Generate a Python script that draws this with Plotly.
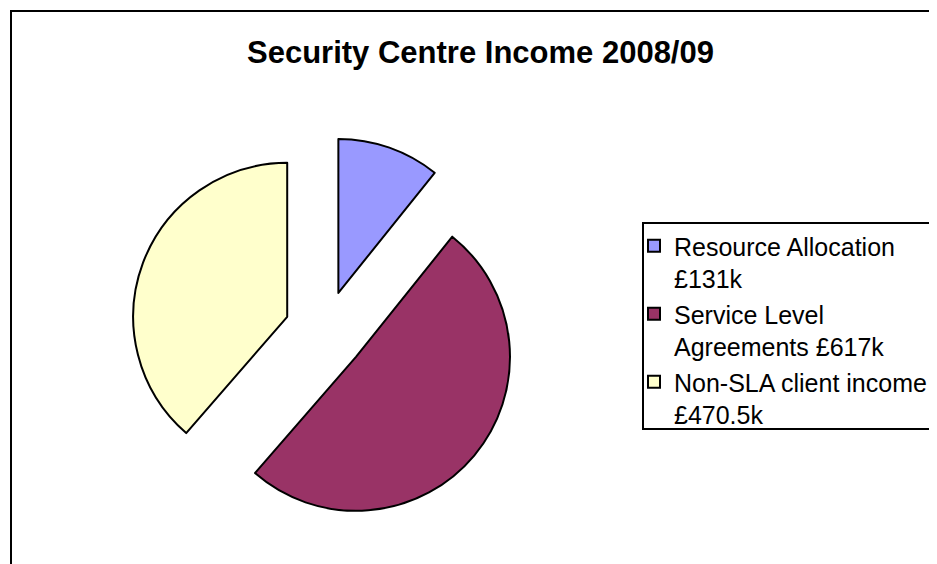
import plotly.graph_objects as go

# Data
categories = ["Resource Allocation", "Service Level Agreements", "Non-SLA client income"]
legend_labels = [
    "Resource Allocation<br>£131k",
    "Service Level<br>Agreements £617k",
    "Non-SLA client income<br>£470.5k",
]
values = [131, 617, 470.5]
colors = ["#9999FF", "#993366", "#FFFFCC"]
title_text = "Security Centre Income 2008/09"

W, H = 937, 564
FONT = "Liberation Sans, Arial, sans-serif"

fig = go.Figure(
    go.Pie(
        labels=legend_labels,
        values=values,
        sort=False,
        direction="clockwise",
        rotation=0,
        pull=[0.262, 0.262, 0.262],
        textinfo="none",
        hovertext=categories,
        hoverinfo="text+value",
        marker=dict(colors=colors, line=dict(color="black", width=2)),
        domain=dict(x=[122.65 / W, 511.35 / W], y=[0.0827, 0.7719]),
    )
)

fig.update_layout(
    width=W,
    height=H,
    margin=dict(l=0, r=0, t=0, b=0),
    paper_bgcolor="white",
    plot_bgcolor="white",
    title=dict(
        text=title_text,
        x=472.5 / W,
        xanchor="center",
        xref="paper",
        y=1 - 44 / H,
        yanchor="middle",
        yref="paper",
        font=dict(family=FONT, size=31, color="black", weight="bold"),
    ),
    legend=dict(
        x=626 / W,
        xanchor="left",
        y=1 - 215 / H,
        yanchor="top",
        valign="top",
        bgcolor="rgba(0,0,0,0)",
        borderwidth=0,
        font=dict(family=FONT, size=25, color="black"),
        traceorder="normal",
    ),
    shapes=[
        # outer chart frame
        dict(
            type="rect", xref="paper", yref="paper",
            x0=3 / W, x1=1.05, y0=-0.05, y1=1 - 3 / H,
            line=dict(color="black", width=2),
            fillcolor="rgba(0,0,0,0)", layer="below",
        ),
        # legend frame
        dict(
            type="rect", xref="paper", yref="paper",
            x0=635 / W, x1=1.05, y0=1 - 421 / H, y1=1 - 215 / H,
            line=dict(color="black", width=2),
            fillcolor="rgba(0,0,0,0)", layer="below",
        ),
    ],
)

fig.write_html("out.html")
